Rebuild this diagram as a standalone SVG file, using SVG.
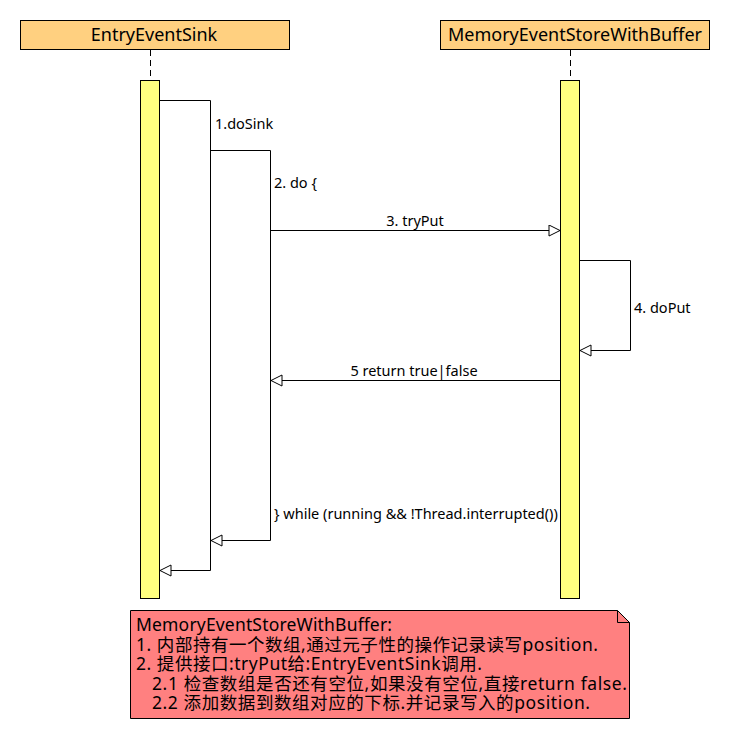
<svg xmlns="http://www.w3.org/2000/svg" width="730" height="740" viewBox="0 0 730 740">
<style>
.hdr{fill:#FFD080;stroke:#000;stroke-width:1}
.act{fill:#FFFF80;stroke:#000;stroke-width:1}
.life{stroke:#000;stroke-width:1;stroke-dasharray:6,4}
.ln{fill:none;stroke:#000;stroke-width:1}
.t{font-family:"Noto Sans","Liberation Sans",sans-serif;fill:#000}
.h{font-size:18px}
.l{font-size:14.5px}
.n{font-family:"Noto Sans","Noto Sans CJK SC",sans-serif;font-size:17.5px;fill:#000}
</style>
<defs>
<marker id="tri" markerWidth="14" markerHeight="14" refX="12" refY="6" orient="auto" markerUnits="userSpaceOnUse">
<path d="M1,0.5 L12,6 L1,11.5 Z" fill="#fff" stroke="#000" stroke-width="1"/>
</marker>
</defs>
<rect width="730" height="740" fill="#fff"/>
<g id="EntryEventSink">
<rect class="hdr" x="20.5" y="20.5" width="269" height="29"/>
<text class="t h" x="154" y="41" text-anchor="middle">EntryEventSink</text>
<line class="life" x1="150.5" y1="50" x2="150.5" y2="80"/>
<rect class="act" x="140.5" y="80.5" width="19" height="518"/>
</g>
<g id="MemoryEventStoreWithBuffer">
<rect class="hdr" x="440.5" y="20.5" width="269" height="29"/>
<text class="t h" x="575" y="41" text-anchor="middle">MemoryEventStoreWithBuffer</text>
<line class="life" x1="570.5" y1="50" x2="570.5" y2="80"/>
<rect class="act" x="560.5" y="80.5" width="19" height="518"/>
</g>
<g id="note">
<path d="M130.5,610.5 H617.5 L629.5,622.5 V718.5 H130.5 Z" fill="#FF8080" stroke="#000"/>
<path d="M617.5,610.5 V622.5 H629.5" fill="none" stroke="#000"/>
<text class="n" x="136" y="631" textLength="256">MemoryEventStoreWithBuffer:</text>
<text class="n" x="136" y="651" textLength="462">1. 内部持有一个数组,通过元子性的操作记录读写position.</text>
<text class="n" x="136" y="670" textLength="346">2. 提供接口:tryPut给:EntryEventSink调用.</text>
<text class="n" x="152" y="690" textLength="475">2.1 检查数组是否还有空位,如果没有空位,直接return false.</text>
<text class="n" x="152" y="709" textLength="438">2.2 添加数据到数组对应的下标.并记录写入的position.</text>
</g>
<g id="connectors">
<path class="ln" d="M160,100.5 H210.5 V570.5 H160" marker-end="url(#tri)"/>
<path class="ln" d="M210.5,150.5 H270.5 V540.5 H211" marker-end="url(#tri)"/>
<path class="ln" d="M270.5,230.5 H560" marker-end="url(#tri)"/>
<path class="ln" d="M580,260.5 H630.5 V350.5 H580" marker-end="url(#tri)"/>
<path class="ln" d="M560,380.5 H271" marker-end="url(#tri)"/>
<text class="t l" x="215" y="129">1.doSink</text>
<text class="t l" x="274" y="188">2. do {</text>
<text class="t l" x="415" y="226" text-anchor="middle">3. tryPut</text>
<text class="t l" x="634" y="313">4. doPut</text>
<text class="t l" x="414" y="376" text-anchor="middle">5 return true|false</text>
<text class="t l" x="274" y="519">} while (running &amp;&amp; !Thread.interrupted())</text>
</g>
</svg>
